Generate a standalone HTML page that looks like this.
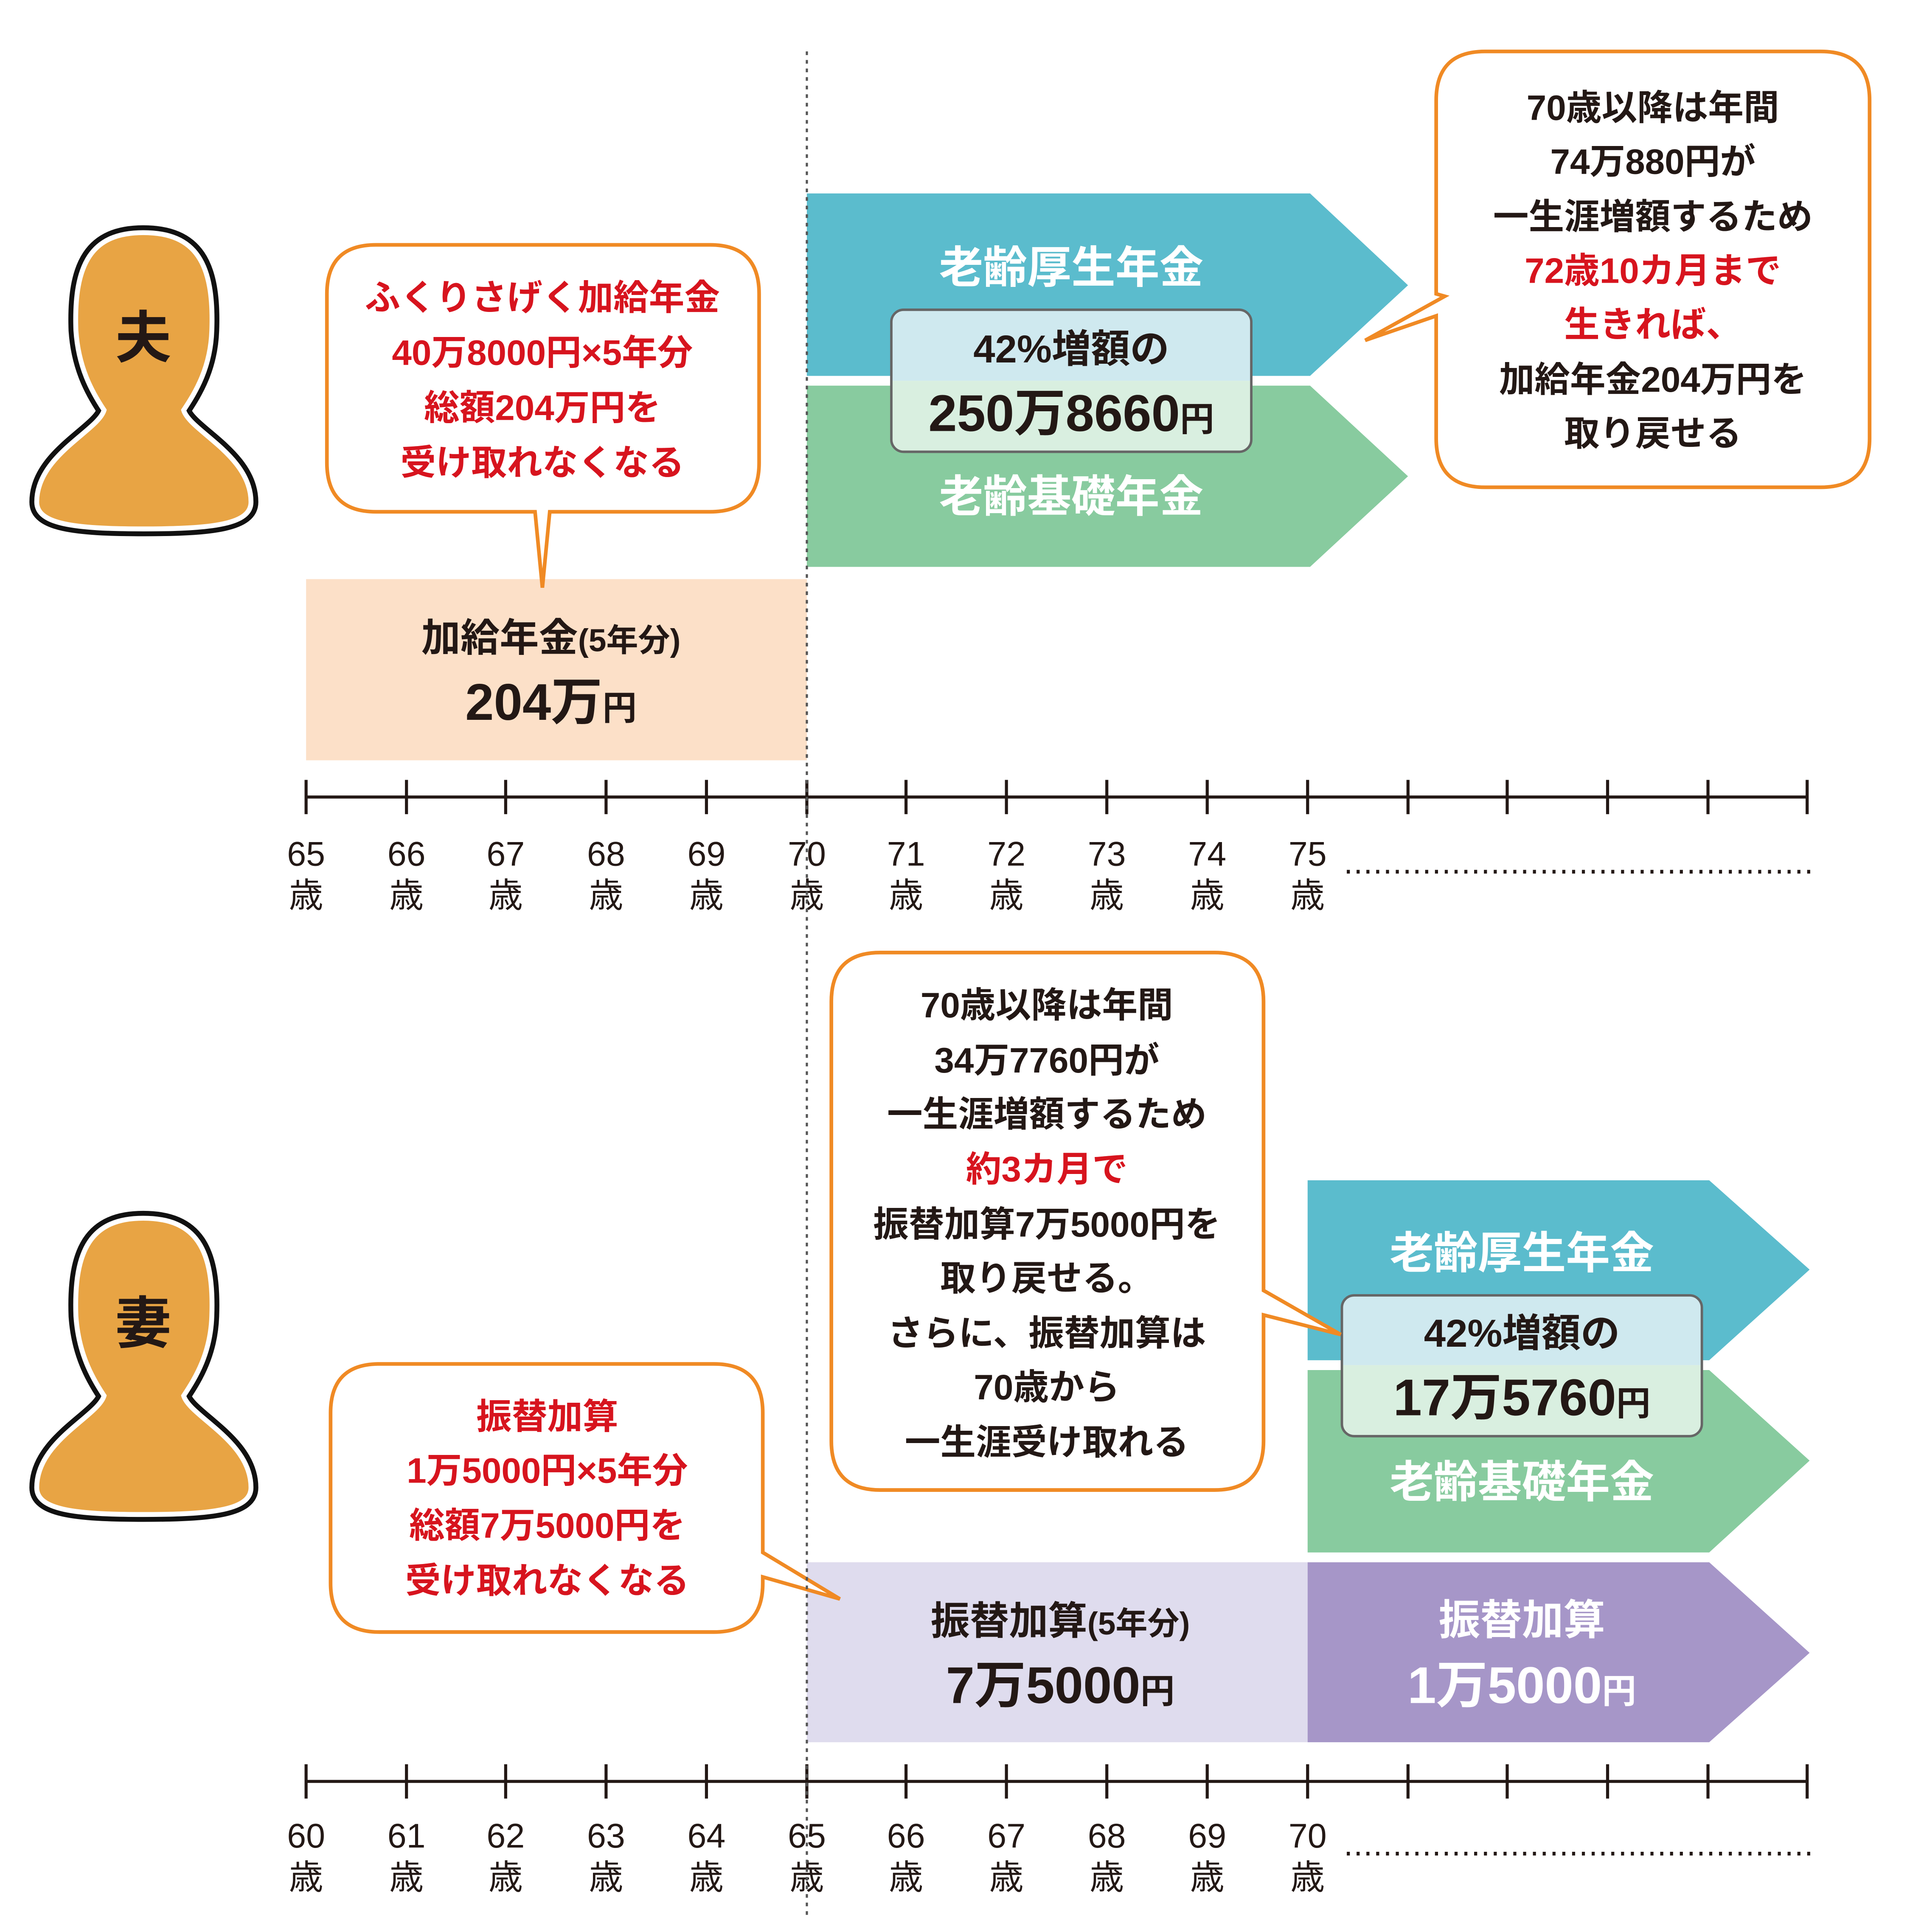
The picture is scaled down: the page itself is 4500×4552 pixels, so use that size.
<!DOCTYPE html>
<html><head><meta charset="utf-8"><style>
html,body{margin:0;padding:0;background:#fff;}
svg{display:block;}
text{font-family:"Liberation Sans","Noto Sans CJK JP",sans-serif;font-weight:bold;}
.n text{font-weight:normal;}
</style></head><body>
<svg width="4500" height="4552" viewBox="0 0 1560 1578" preserveAspectRatio="none" xmlns="http://www.w3.org/2000/svg">
<defs>
<path id="person" d="M117,190 C75,190 60,215 62,270 C64,300 75,320 85,335 C80,352 30,372 30,410 C30,428 60,432 117,432 C175,432 205,428 205,410 C205,372 155,352 150,335 C160,320 172,300 173,270 C175,215 160,190 117,190Z"/>
</defs>
<rect width="1560" height="1578" fill="#fff"/>

<use href="#person" fill="none" stroke="#111" stroke-width="12"/>
<use href="#person" fill="#e8a444" stroke="#fff" stroke-width="4"/>
<text x="117" y="292" font-size="46" text-anchor="middle" fill="#231815">夫</text>
<g transform="translate(0,805)">
<use href="#person" fill="none" stroke="#111" stroke-width="12"/>
<use href="#person" fill="#e8a444" stroke="#fff" stroke-width="4"/>
<text x="117" y="292" font-size="46" text-anchor="middle" fill="#231815">妻</text>
</g>

<rect x="250" y="473" width="409" height="148" fill="#fce0c8"/>
<text x="450" y="532" font-size="32" text-anchor="middle" fill="#231815">加給年金<tspan font-size="26">(5年分)</tspan></text>
<text x="450" y="588" font-size="42" text-anchor="middle" fill="#231815">204万<tspan font-size="28">円</tspan></text>

<polygon points="659,158 1070,158 1150,233 1070,307 659,307" fill="#5bbccd"/>
<polygon points="659,315 1070,315 1150,389 1070,463 659,463" fill="#88cb9f"/>
<text x="875" y="231" font-size="36" text-anchor="middle" fill="#fff">老齢厚生年金</text>
<text x="875" y="418" font-size="36" text-anchor="middle" fill="#fff">老齢基礎年金</text>
<path d="M738,253 H1012 Q1022,253 1022,263 V311 H728 V263 Q728,253 738,253Z" fill="#cfe9ef"/>
<path d="M728,311 H1022 V359 Q1022,369 1012,369 H738 Q728,369 728,359Z" fill="#d9efe0"/>
<rect x="728" y="253" width="294" height="116" rx="10" fill="none" stroke="#666" stroke-width="2"/>
<text x="875" y="296" font-size="32" text-anchor="middle" fill="#231815">42%増額の</text>
<text x="875" y="352" font-size="42" text-anchor="middle" fill="#231815">250万8660<tspan font-size="28">円</tspan></text>

<path d="M307,200 H580 Q620,200 620,240 V378 Q620,418 580,418 H449 L443,480 L437,418 H307 Q267,418 267,378 V240 Q267,200 307,200Z" fill="#fff" stroke="#f08a24" stroke-width="3"/>
<g font-size="29" text-anchor="middle" fill="#d7141e">
<text x="443" y="253">ふくりさげく加給年金</text>
<text x="443" y="298">40万8000円×5年分</text>
<text x="443" y="343">総額204万円を</text>
<text x="443" y="388">受け取れなくなる</text>
</g>

<path d="M1213,42 H1487 Q1527,42 1527,82 V358 Q1527,398 1487,398 H1213 Q1173,398 1173,358 V258 L1115,278 L1180,242 L1173,240 V82 Q1173,42 1213,42Z" fill="#fff" stroke="#f08a24" stroke-width="3"/>
<g font-size="29" text-anchor="middle" fill="#231815">
<text x="1350" y="98">70歳以降は年間</text>
<text x="1350" y="142">74万880円が</text>
<text x="1350" y="187">一生涯増額するため</text>
<text x="1350" y="231" fill="#d7141e">72歳10カ月まで</text>
<text x="1350" y="275" fill="#d7141e">生きれば、</text>
<text x="1350" y="320">加給年金204万円を</text>
<text x="1350" y="364">取り戻せる</text>
</g>

<line x1="250" y1="651" x2="1476" y2="651" stroke="#231815" stroke-width="2.5"/>
<g stroke="#231815" stroke-width="2.5">
<line x1="250" y1="637" x2="250" y2="665"/><line x1="332" y1="637" x2="332" y2="665"/><line x1="413" y1="637" x2="413" y2="665"/><line x1="495" y1="637" x2="495" y2="665"/><line x1="577" y1="637" x2="577" y2="665"/><line x1="659" y1="637" x2="659" y2="665"/><line x1="740" y1="637" x2="740" y2="665"/><line x1="822" y1="637" x2="822" y2="665"/><line x1="904" y1="637" x2="904" y2="665"/><line x1="986" y1="637" x2="986" y2="665"/><line x1="1068" y1="637" x2="1068" y2="665"/><line x1="1150" y1="637" x2="1150" y2="665"/><line x1="1231" y1="637" x2="1231" y2="665"/><line x1="1313" y1="637" x2="1313" y2="665"/><line x1="1395" y1="637" x2="1395" y2="665"/><line x1="1476" y1="637" x2="1476" y2="665"/>
</g>
<g class="n" font-size="28" text-anchor="middle" fill="#231815">
<text x="250" y="707">65</text><text x="332" y="707">66</text><text x="413" y="707">67</text><text x="495" y="707">68</text><text x="577" y="707">69</text><text x="659" y="707">70</text><text x="740" y="707">71</text><text x="822" y="707">72</text><text x="904" y="707">73</text><text x="986" y="707">74</text><text x="1068" y="707">75</text>
<text x="250" y="741">歳</text><text x="332" y="741">歳</text><text x="413" y="741">歳</text><text x="495" y="741">歳</text><text x="577" y="741">歳</text><text x="659" y="741">歳</text><text x="740" y="741">歳</text><text x="822" y="741">歳</text><text x="904" y="741">歳</text><text x="986" y="741">歳</text><text x="1068" y="741">歳</text>
</g>
<line x1="1100" y1="712" x2="1480" y2="712" stroke="#231815" stroke-width="3" stroke-dasharray="2.5,5.5"/>

<polygon points="1068,964 1396,964 1478,1037 1396,1111 1068,1111" fill="#5bbccd"/>
<polygon points="1068,1119 1396,1119 1478,1193 1396,1268 1068,1268" fill="#88cb9f"/>
<text x="1243" y="1036" font-size="36" text-anchor="middle" fill="#fff">老齢厚生年金</text>
<text x="1243" y="1223" font-size="36" text-anchor="middle" fill="#fff">老齢基礎年金</text>
<path d="M1106,1058 H1380 Q1390,1058 1390,1068 V1115 H1096 V1068 Q1096,1058 1106,1058Z" fill="#cfe9ef"/>
<path d="M1096,1115 H1390 V1163 Q1390,1173 1380,1173 H1106 Q1096,1173 1096,1163Z" fill="#d9efe0"/>
<rect x="1096" y="1058" width="294" height="115" rx="10" fill="none" stroke="#666" stroke-width="2"/>
<text x="1243" y="1100" font-size="32" text-anchor="middle" fill="#231815">42%増額の</text>
<text x="1243" y="1156" font-size="42" text-anchor="middle" fill="#231815">17万5760<tspan font-size="28">円</tspan></text>

<rect x="659" y="1276" width="409" height="147" fill="#dfdcee"/>
<polygon points="1068,1276 1396,1276 1478,1350 1396,1423 1068,1423" fill="#a696c8"/>
<text x="866" y="1335" font-size="32" text-anchor="middle" fill="#231815">振替加算<tspan font-size="26">(5年分)</tspan></text>
<text x="866" y="1391" font-size="42" text-anchor="middle" fill="#231815">7万5000<tspan font-size="28">円</tspan></text>
<text x="1243" y="1335" font-size="34" text-anchor="middle" fill="#fff">振替加算</text>
<text x="1243" y="1391" font-size="42" text-anchor="middle" fill="#fff">1万5000<tspan font-size="28">円</tspan></text>

<path d="M719,778 H992 Q1032,778 1032,818 V1054 L1095,1090 L1032,1074 V1177 Q1032,1217 992,1217 H719 Q679,1217 679,1177 V818 Q679,778 719,778Z" fill="#fff" stroke="#f08a24" stroke-width="3"/>
<g font-size="29" text-anchor="middle" fill="#231815">
<text x="855" y="831">70歳以降は年間</text>
<text x="855" y="876">34万7760円が</text>
<text x="855" y="920">一生涯増額するため</text>
<text x="855" y="965" fill="#d7141e">約3カ月で</text>
<text x="855" y="1010">振替加算7万5000円を</text>
<text x="855" y="1054">取り戻せる。</text>
<text x="855" y="1099">さらに、振替加算は</text>
<text x="855" y="1143">70歳から</text>
<text x="855" y="1188">一生涯受け取れる</text>
</g>

<path d="M310,1114 H583 Q623,1114 623,1154 V1268 L686,1306 L623,1288 V1293 Q623,1333 583,1333 H310 Q270,1333 270,1293 V1154 Q270,1114 310,1114Z" fill="#fff" stroke="#f08a24" stroke-width="3"/>
<g font-size="29" text-anchor="middle" fill="#d7141e">
<text x="447" y="1167">振替加算</text>
<text x="447" y="1211">1万5000円×5年分</text>
<text x="447" y="1256">総額7万5000円を</text>
<text x="447" y="1301">受け取れなくなる</text>
</g>

<line x1="250" y1="1455" x2="1476" y2="1455" stroke="#231815" stroke-width="2.5"/>
<g stroke="#231815" stroke-width="2.5">
<line x1="250" y1="1441" x2="250" y2="1469"/><line x1="332" y1="1441" x2="332" y2="1469"/><line x1="413" y1="1441" x2="413" y2="1469"/><line x1="495" y1="1441" x2="495" y2="1469"/><line x1="577" y1="1441" x2="577" y2="1469"/><line x1="659" y1="1441" x2="659" y2="1469"/><line x1="740" y1="1441" x2="740" y2="1469"/><line x1="822" y1="1441" x2="822" y2="1469"/><line x1="904" y1="1441" x2="904" y2="1469"/><line x1="986" y1="1441" x2="986" y2="1469"/><line x1="1068" y1="1441" x2="1068" y2="1469"/><line x1="1150" y1="1441" x2="1150" y2="1469"/><line x1="1231" y1="1441" x2="1231" y2="1469"/><line x1="1313" y1="1441" x2="1313" y2="1469"/><line x1="1395" y1="1441" x2="1395" y2="1469"/><line x1="1476" y1="1441" x2="1476" y2="1469"/>
</g>
<g class="n" font-size="28" text-anchor="middle" fill="#231815">
<text x="250" y="1509">60</text><text x="332" y="1509">61</text><text x="413" y="1509">62</text><text x="495" y="1509">63</text><text x="577" y="1509">64</text><text x="659" y="1509">65</text><text x="740" y="1509">66</text><text x="822" y="1509">67</text><text x="904" y="1509">68</text><text x="986" y="1509">69</text><text x="1068" y="1509">70</text>
<text x="250" y="1543">歳</text><text x="332" y="1543">歳</text><text x="413" y="1543">歳</text><text x="495" y="1543">歳</text><text x="577" y="1543">歳</text><text x="659" y="1543">歳</text><text x="740" y="1543">歳</text><text x="822" y="1543">歳</text><text x="904" y="1543">歳</text><text x="986" y="1543">歳</text><text x="1068" y="1543">歳</text>
</g>
<line x1="1100" y1="1514" x2="1480" y2="1514" stroke="#231815" stroke-width="3" stroke-dasharray="2.5,5.5"/>

<line x1="659" y1="42" x2="659" y2="1568" stroke="#555" stroke-width="1.8" stroke-dasharray="3,4"/>
</svg>
</body></html>
